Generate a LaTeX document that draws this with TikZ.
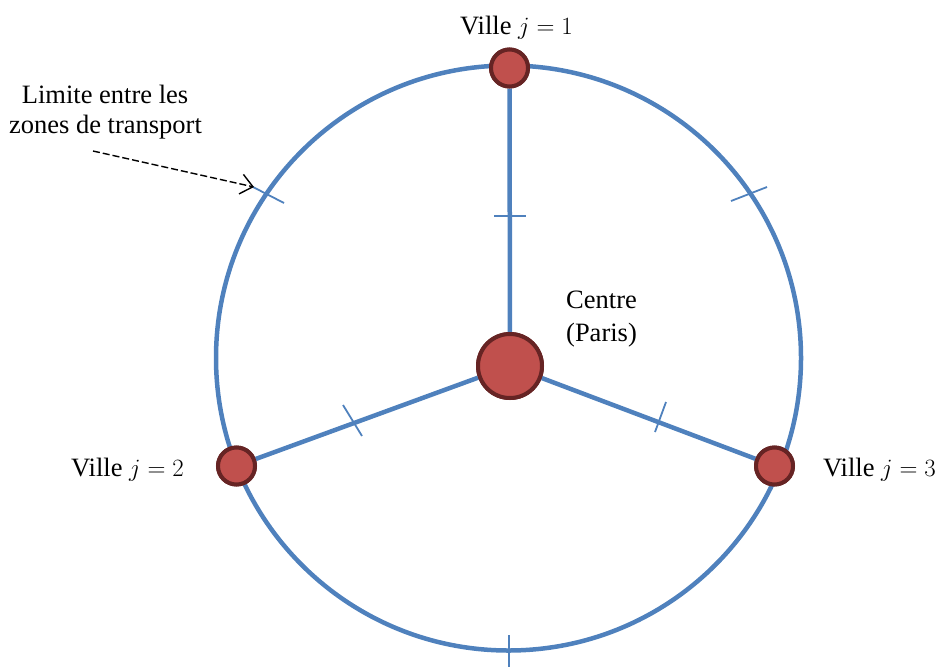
\documentclass[tikz,border=0pt]{standalone}
\usepackage{fontspec}
\setmainfont{Liberation Serif}
\usetikzlibrary{arrows.meta}
\definecolor{ringblue}{HTML}{4F81BD}
\definecolor{cityfill}{HTML}{C0504D}
\definecolor{cityedge}{HTML}{662424}
\tikzset{
  ring/.style={draw=ringblue, line width=4.5pt},
  spoke/.style={draw=ringblue, line width=4.5pt},
  tickmark/.style={draw=ringblue, line width=1.8pt},
  city/.style={circle, fill=cityfill, draw=cityedge, line width=4pt, minimum size=37pt, inner sep=0pt},
  hub/.style={city, minimum size=64pt},
  lbl/.style={font=\fontsize{26.5}{32}\selectfont, inner sep=0pt, anchor=base},
  pointer/.style={draw=black, line width=1.4pt, dash pattern=on 7pt off 3pt, -{Straight Barb[length=12pt,width=20pt,line width=1.4pt]}}
}
\begin{document}
\begin{tikzpicture}[x=1pt,y=-1pt]
\useasboundingbox (0,0) rectangle (941,667);
% ring
\draw[ring] (508.5,358) circle[radius=292.5];
% nodes (placed first for names)
\node[hub] (c) at (510,366) {};
\node[city] (v1) at (509.5,68) {};
\node[city] (v2) at (236.5,466) {};
\node[city] (v3) at (774.5,466) {};
% spokes
\draw[spoke] (c) -- (v1);
\draw[spoke] (c) -- (v2);
\draw[spoke] (c) -- (v3);
% redraw nodes on top of ring and spokes
\node[hub] at (c) {};
\node[city] at (v1) {};
\node[city] at (v2) {};
\node[city] at (v3) {};
% tick marks
\draw[tickmark] (494,216) -- (526,216);
\draw[tickmark] (343,405) -- (362,436);
\draw[tickmark] (666,402) -- (655,432);
\draw[tickmark] (731,201) -- (767,187);
\draw[tickmark] (253,187) -- (284,203);
\draw[tickmark] (509,635) -- (509,667);
% labels
\node[lbl] (t1) at (516.5,34) {Ville $j=1$};
\node[lbl] (t2) at (127.5,476) {Ville $j=2$};
\node[lbl] (t3) at (879.5,476) {Ville $j=3$};
\node[lbl] (tc1) at (601.5,308) {Centre};
\node[lbl] (tc2) at (601.5,341) {(Paris)};
\node[lbl] (tl1) at (105,103) {Limite entre les};
\node[lbl] (tl2) at (105.5,133) {zones de transport};
\coordinate (ps) at (93,151);
\coordinate (pe) at (254,187);
\draw[pointer] (ps) -- (pe);
\end{tikzpicture}
\end{document}
